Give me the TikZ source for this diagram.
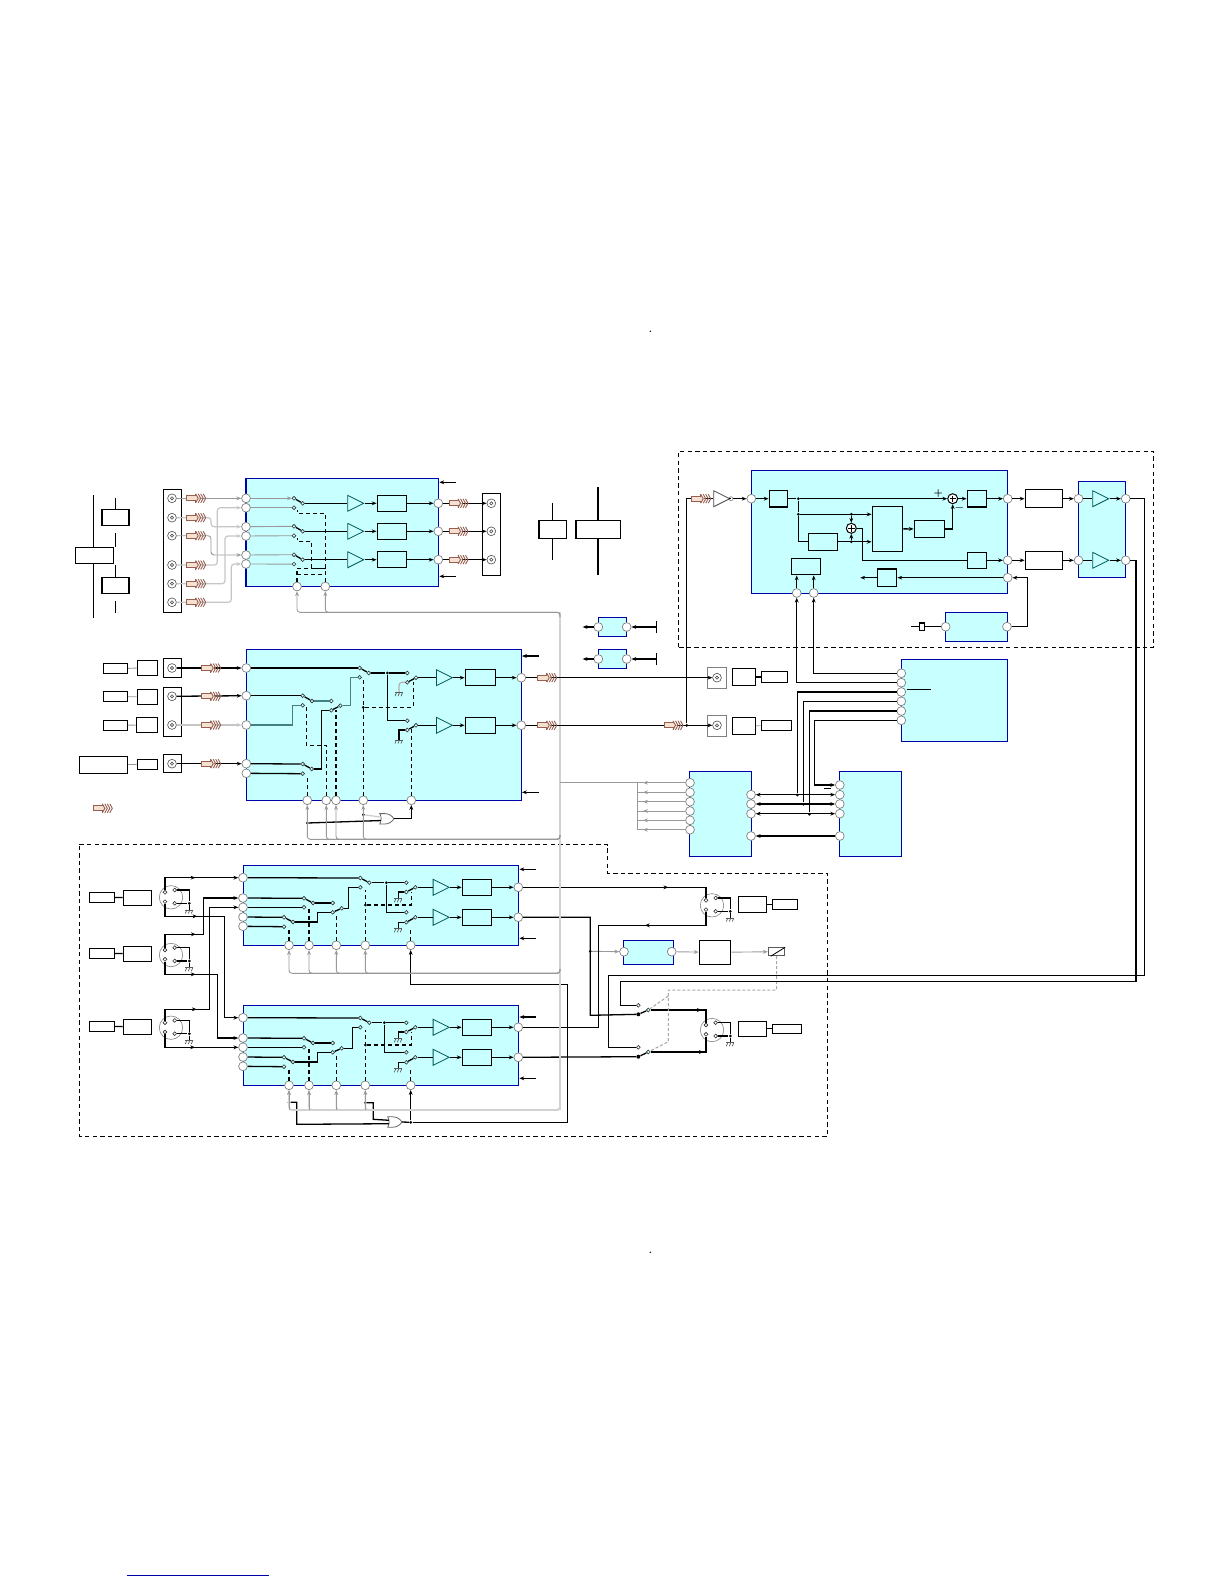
\documentclass[tikz,border=0pt]{standalone}
\usepackage{tikz}
\usetikzlibrary{positioning,arrows.meta,shapes.geometric,shapes.gates.logic.US,decorations.markings}

\definecolor{blkfill}{RGB}{200,255,255}
\definecolor{blkline}{RGB}{0,0,170}
\definecolor{hatchline}{RGB}{150,95,80}
\definecolor{hatchfill}{RGB}{245,225,210}

\tikzset{
    hatcharrow/.pic={
        \fill[hatchfill] (0,-2.5) -- (9,-2.5) -- (9,-4.5) -- (13,0) -- (9,4.5) -- (9,2.5) -- (0,2.5) -- cycle;
        \draw[hatchline, line width=.4pt] (9,-4.5) -- (9,-2.5) -- (0,-2.5) -- (0,2.5) -- (9,2.5) -- (9,4.5);
        \foreach \x in {9,11.5,14,16.5} {
            \draw[hatchline, line width=.45pt] (\x,-4.5) -- (\x+2.5,0) -- (\x,4.5);
        }
    },
    gnd/.pic={
        \draw[gray!70!black, line width=.35pt] (-4,0) -- (4,0);
        \foreach \x in {-2.5,0.5,3.5} {
            \draw[gray!70!black, line width=.35pt] (\x,0) -- (\x-1.5,3.5);
        }
    }
}

\begin{document}
\begin{tikzpicture}[
    x=0.5pt, y=-0.5pt,
    >={Stealth[length=2.4pt,width=1.9pt]},
    % blocks
    sz/.style 2 args={minimum width=#1*0.5pt, minimum height=#2*0.5pt},
    bluebox/.style={rectangle, draw=blkline, fill=blkfill, line width=.7pt, inner sep=0pt},
    innerbox/.style={rectangle, draw=black, fill=blkfill, line width=.7pt, inner sep=0pt},
    whitebox/.style={rectangle, draw=black, fill=white, line width=.7pt, inner sep=0pt},
    % terminals
    port/.style={circle, draw=gray, fill=white, line width=.35pt, minimum size=4.4pt, inner sep=0pt},
    contact/.style={circle, draw=black!80, fill=blkfill, line width=.3pt, minimum size=1.9pt, inner sep=0pt},
    dot/.style={circle, fill=black, minimum size=1.5pt, inner sep=0pt},
    jack/.style={circle, draw=black!70, fill=white, line width=.3pt, minimum size=4.4pt, inner sep=0pt,
        path picture={\draw[black!70, line width=.3pt] (path picture bounding box.center) circle (.8pt);}},
    xlr/.style={circle, draw=gray, line width=.3pt, minimum size=11.7pt, inner sep=0pt},
    sumnode/.style={circle, draw=black, fill=white, line width=.5pt, minimum size=5pt, inner sep=0pt,
        path picture={\draw[line width=.6pt] (path picture bounding box.center) ++(-1.6pt,0) -- ++(3.2pt,0)
            (path picture bounding box.center) ++(0,-1.6pt) -- ++(0,3.2pt);}},
    amp/.style={isosceles triangle, isosceles triangle stretches, draw=teal!70!black, fill=blkfill,
        line width=.4pt, minimum width=8pt, minimum height=8pt, inner sep=0pt, anchor=lower side},
    orgate/.style={or gate US, draw=black!60, fill=white, logic gate inputs=nn, line width=.4pt,
        scale=.36, transform shape},
    % wires
    wire/.style={line width=.65pt},
    arrow/.style={->, line width=.65pt},
    graywire/.style={->, draw=gray!80, line width=.45pt, rounded corners=1.5pt},
    lightwire/.style={->, draw=gray!45, line width=.6pt, rounded corners=1.5pt},
    buswire/.style={draw=gray!35, line width=1.1pt},
    ctrl/.style={line width=.55pt, dash pattern=on 2pt off 1.5pt},
    dashframe/.style={line width=.55pt, dash pattern=on 2.2pt off 1.6pt},
    dotgray/.style={draw=gray!70, line width=.5pt, dash pattern=on 1.5pt off 1pt},
    midtip/.style={postaction={decorate}, decoration={markings, mark=at position #1 with {\arrow{Stealth[length=2.4pt,width=1.9pt]}}}},
    signlabel/.style={font=\fontsize{4}{4}\selectfont\bfseries, inner sep=0pt}
]
\useasboundingbox (0,0) rectangle (1224,1584);

% dashed frames
\draw[dashframe] (678.3,647.3) -- (678.3,451.3) -- (1153.7,451.3) -- (1153.7,647.3) -- cycle;
\draw[dashframe] (79.3,844.7) -- (607.7,844.7) -- (607.7,873.3) -- (827.7,873.3) -- (827.7,1136.3) -- (79.3,1136.3) -- cycle;

% page marks
\node[dot, minimum size=.8pt] (mk1) at (650.3,331.3) {};
\node[dot, minimum size=.8pt] (mk2) at (650.3,1252.3) {};
\coordinate (fna) at (127,1575.3);
\coordinate (fnb) at (269,1575.3);
\draw[blkline, line width=.8pt] (fna) -- (fnb);

% left group
\coordinate (rla) at (93.3,495);
\coordinate (rlb) at (93.3,618.3);
\node[whitebox, sz={38}{15.6}] (rela) at (94.3,555.5) {};
\node[whitebox, sz={27}{16}] (relb) at (115.3,517.3) {};
\node[whitebox, sz={27}{16}] (relc) at (115.3,585.3) {};
\coordinate (rs1) at (115.3,498.3);
\coordinate (rs2) at (115.3,533.3);
\coordinate (rs3) at (115.3,546.7);
\coordinate (rs4) at (115.3,565);
\coordinate (rs5) at (115.3,601.3);
\coordinate (rs6) at (115.3,612.7);
\draw[wire] (rla) -- (rela.north -| rla);
\draw[wire] (rela.south -| rla) -- (rlb);
\draw[wire] (rs1) -- (relb);
\draw[wire] (rs2) -- (rs3);
\draw[wire] (rs4) -- (relc);
\draw[wire] (rs5) -- (rs6);

% middle group
\node[whitebox, sz={27.4}{18.4}] (midb1) at (552.5,529.5) {};
\node[whitebox, sz={44.4}{18.4}] (midb2) at (598,529.5) {};
\coordinate (mid1t) at (552.5,503);
\coordinate (mid1b) at (552.5,560);
\coordinate (mid2t) at (598,487.3);
\coordinate (mid2b) at (598,575);
\draw[wire] (mid1t) -- (midb1);
\draw[wire] (midb1) -- (mid1b);
\draw[wire] (mid2t) -- (midb2);
\draw[wire] (midb2) -- (mid2b);

% small blocks
\foreach \n/\y in {1/627,2/659} {
    \node[bluebox, sz={28.4}{19}] (smb\n) at (612.5,\y) {};
    \node[port] (smb\n l) at (598.3,\y) {};
    \node[port] (smb\n r) at (626.7,\y) {};
    \coordinate (sme\n l) at (582.7,\y);
    \coordinate (sme\n r) at (657.3,\y);
    \draw[arrow] (smb\n l) -- (sme\n l);
    \draw[<-|, line width=.65pt] (smb\n r) -- (sme\n r);
}

% BLOCK A
\node[bluebox, sz={192.7}{108.4}] (ablk) at (342.3,532.5) {};
\node[whitebox, sz={18}{123}] (conl) at (172.3,550.8) {};
\node[whitebox, sz={18.4}{82}] (conr) at (491.5,534.3) {};
\foreach \n/\y in {1/498.3,2/507.7,3/526.7,4/536,5/555,6/564} {
    \node[port] (a\n) at (246,\y) {};
}
\foreach \n/\y in {1/498.3,2/517.7,3/535.7,4/565,5/583.7,6/602.3} {
    \node[jack] (jl\n) at (172,\y) {};
}
\foreach \n/\x in {1/297,2/325.3} {
    \node[port] (ac\n) at (\x,586.5) {};
}
\foreach \n/\y in {1/503.3,2/531.3,3/559.7} {
    \node[contact] (sa\n u) at (294,\y-5) {};
    \node[contact] (sa\n d) at (294,\y+4.4) {};
    \node[contact] (sa\n o) at (302.7,\y) {};
    \node[amp] (ampa\n) at (347.3,\y) {};
    \node[innerbox, sz={29.4}{16}] (fila\n) at (392,\y) {};
    \node[port] (ao\n) at (438.3,\y) {};
    \node[jack] (jr\n) at (491.3,\y) {};
    \draw[wire] (sa\n u) -- (sa\n o);
    \draw[wire] (sa\n o) -- (ampa\n.lower side);
    \draw[arrow] (ampa\n.apex) -- (fila\n);
    \draw[arrow] (fila\n) -- (ao\n);
    \draw[arrow] (ao\n) -- (jr\n);
    \pic at (449,\y) {hatcharrow};
}
\draw[graywire] (a1) -- (sa1u);
\draw[graywire, -] (a2) -- (sa1d);
\draw[graywire, -] (a3) -- (sa2u);
\draw[graywire, -] (a4) -- (sa2d);
\draw[graywire, -] (a5) -- (sa3u);
\draw[graywire, -] (a6) -- (sa3d);
\draw[graywire] (jl1) -- (a1);
\draw[lightwire] (jl2) -| (211,526.7) -- (a3);
\draw[graywire] (jl3) -| (211,555) -- (a5);
\draw[lightwire] (jl4) -| (217.3,507.7) -- (a2);
\draw[lightwire] (jl5) -| (225,536) -- (a4);
\draw[lightwire] (jl6) -| (231.3,564) -- (a6);
\foreach \y in {498.3,517.7,535.7,565,583.7,602.3} {
    \pic at (186.7,\y) {hatcharrow};
}
\coordinate (ad1a) at (325.3,513.3);
\coordinate (ad1b) at (297.3,510);
\coordinate (ad2a) at (325.3,568.3);
\coordinate (ad2b) at (311.3,541.3);
\coordinate (ad2c) at (297.3,538);
\coordinate (ad3a) at (297,568);
\coordinate (ad3b) at (297,574.3);
\draw[ctrl] (ac2) |- (ad1b |- ad1a) -- (ad1b);
\draw[ctrl] (ad2a) -| (ad2b) -| (ad2c);
\draw[ctrl] (ad3a |- ad2a) -- (ad2a);
\draw[ctrl] (ac1) -- (ad3a);
\draw[ctrl] (ad3b) -- (ad3b -| ac2);
\foreach \n/\y in {1/482.3,2/576.3} {
    \coordinate (ata\n) at (456,\y);
    \draw[arrow] (ata\n) -- (ablk.east |- ata\n);
}

% BLOCK B
\node[bluebox, sz={275}{151}] (bblk) at (383.8,724.8) {};
\node[whitebox, sz={18}{19}] (conb1) at (172.3,667.8) {};
\node[whitebox, sz={18}{49.4}] (conb2) at (172.3,712) {};
\node[whitebox, sz={18}{18}] (conb4) at (172.3,763.3) {};
\foreach \n/\y in {1/668,2/695.7,3/725,4/763.7,5/773.3} {
    \node[port] (b\n) at (246.3,\y) {};
}
\foreach \n/\y in {1/668,2/696.3,3/725,4/763.7} {
    \node[jack] (jb\n) at (172,\y) {};
}
\node[whitebox, sz={24}{10}] (srb1) at (115.3,668.7) {};
\node[whitebox, sz={20.4}{15}] (sqb1) at (147.5,667.8) {};
\node[whitebox, sz={24}{10}] (srb2) at (115.3,696.7) {};
\node[whitebox, sz={20.4}{15}] (sqb2) at (147.5,696.8) {};
\node[whitebox, sz={24}{10}] (srb3) at (115.3,725.3) {};
\node[whitebox, sz={21.4}{15.4}] (sqb3) at (147,725) {};
\node[whitebox, sz={48}{17}] (srb4) at (103.3,764.8) {};
\node[whitebox, sz={20.4}{10}] (sqb4) at (147.5,764.3) {};
\foreach \n in {1,2,3,4} {
    \draw[graywire, -] (srb\n) -- (sqb\n);
}
\foreach \n/\x/\y in {s1u/359.7/668,s1d/359.7/677.3,s1o/368.7/673,
    m1u/407.3/673,m1d/407.3/682.3,m1o/416/677.7,
    m2u/407.3/720.7,m2d/407.3/730,m2o/416/725.3,
    s2u/302.7/695.7,s2d/302.7/705.3,s2o/312/701,
    s3u/331.3/701,s3d/331.3/710.3,s3o/340.3/705.7,
    s4u/302.7/764,s4d/302.7/773.7,s4o/311.7/769} {
    \node[contact] (b\n) at (\x,\y) {};
}
\foreach \n/\y in {1/677.7,2/725.3} {
    \node[amp] (ampb\n) at (436,\y) {};
    \node[innerbox, sz={30.4}{16}] (filb\n) at (480.5,\y) {};
    \node[port] (bo\n) at (521.3,\y) {};
    \draw[wire] (bm\n o) -- (ampb\n.lower side);
    \draw[wire] (bm\n d) -- (bm\n o);
    \draw[arrow] (ampb\n.apex) -- (filb\n);
    \draw[arrow] (filb\n) -- (bo\n);
}
\foreach \n/\x in {1/307.3,2/326.3,3/336,4/363.3,5/411.3} {
    \node[port] (bc\n) at (\x,800.3) {};
}
\node[dot] (bd1) at (387.3,673) {};
\node[dot] (bd2) at (363.3,707.3) {};
\coordinate (bg1) at (399,692.7);
\coordinate (bg2) at (399,740);
\draw[arrow] (jb1) -- (b1);
\draw[arrow] (jb2) -- (b2);
\draw[lightwire] (jb3) -- (b3);
\draw[arrow] (jb4) -- (b4);
\foreach \y in {668,696.3,725,763.7} {
    \pic at (201.7,\y) {hatcharrow};
}
\draw[wire] (b1) -- (bs1u);
\draw[wire] (bs1u) -- (bs1o);
\draw[wire] (bs1o) -- (bd1);
\draw[wire] (bd1) -- (bm1u);
\draw[wire] (bd1) |- (bm2u);
\draw[lightwire, -, draw=gray!60] (bm1d) -| (bg1);
\draw[wire] (bm2d) -| (bg2);
\pic at (bg1) {gnd};
\pic at (bg2) {gnd};
\draw[wire] (b2) -- (bs2u);
\draw[wire] (bs2u) -- (bs2o);
\draw[wire, draw=teal!50!gray] (bs2o) -- (bs3u);
\draw[wire, draw=teal!50!gray] (b3) -| (292.3,705.3) -- (bs2d);
\draw[wire] (bs3d) -- (bs3o);
\draw[wire, draw=teal!40!gray] (bs3o) -| (350.7,677.3) -- (bs1d);
\draw[wire] (b4) -- (bs4u);
\draw[wire] (bs4u) -- (bs4o);
\draw[wire] (bs4o) -| (321.3,710.3) -- (bs3d);
\draw[wire] (b5) -- (bs4d);
\coordinate (bt1) at (307.3,776);
\coordinate (bt2) at (326.3,745.3);
\coordinate (bt2b) at (306.3,706.7);
\coordinate (bt3) at (336,710);
\coordinate (bt4) at (363.3,680);
\coordinate (bt5) at (411.3,729);
\coordinate (bt6) at (413.3,681.7);
\draw[ctrl] (bc1) -- (bt1);
\draw[ctrl] (bc2) -- (bt2) -| (bt2b);
\draw[ctrl] (bc3) -- (bt3);
\draw[ctrl] (bc4) -- (bt4);
\draw[ctrl] (bc5) -- (bt5);
\draw[ctrl] (bd2) -| (bt6);
\foreach \n/\y in {1/656,2/792.3} {
    \coordinate (btp\n) at (539,\y);
    \draw[arrow] (btp\n) -- (bblk.east |- btp\n);
}
\node[orgate] (gb) at (385.8,818.8) {};
\node[dot] (bdt1) at (363.3,814.7) {};
\node[dot] (bdt2) at (307.3,823) {};
\draw[lightwire, -, draw=gray!40] (bdt1) -- (gb.input 1);
\draw[wire] (bdt2) -- (gb.input 2);
\draw[arrow] (gb.output) -| (bc5);
\pic at (93.3,808.3) {hatcharrow};

% BLOCKS F and G
\foreach \p/\dy/\tipy/\dx/\mx in {f/0/869.3/386.3/348.3,g/140/1017/384.3/352.7} {
    \node[bluebox, sz={275.4}{80}] (\p blk) at (381,905.3+\dy) {};
    \foreach \n/\y in {1/877.7,2/898,3/907.3,4/917,5/926.3} {
        \node[port] (\p\n) at (243,\y+\dy) {};
    }
    \foreach \n/\x in {1/289,2/309,3/336.3,4/365.3,5/410.7} {
        \node[port] (\p c\n) at (\x,945.3+\dy) {};
    }
    \foreach \n/\x/\y in {s1u/360.3/878,s1d/360.3/887.3,s1o/369.3/882.7,
        m1u/406.3/882.7,m1d/406.3/892,m1o/415.3/887.3,
        m2u/406.3/912.3,m2d/406.3/922.3,m2o/415.3/917.3,
        s2u/304/898.3,s2d/304/907.3,s2o/313/903,
        s3u/332.7/903,s3d/332.7/912.3,s3o/341.7/908.3,
        s4u/284/917.3,s4d/284/926.7,s4o/293/922} {
        \node[contact] (\p\n) at (\x,\y+\dy) {};
    }
    \foreach \n/\y in {1/887.3,2/917.3} {
        \node[amp] (\p amp\n) at (432.7,\y+\dy) {};
        \node[innerbox, sz={29.4}{16}] (\p fil\n) at (477,\y+\dy) {};
        \node[port] (\p o\n) at (518.3,\y+\dy) {};
        \coordinate (\p g\n) at (398.3,\y+\dy+11.5);
        \draw[wire] (\p m\n o) -- (\p amp\n.lower side);
        \draw[wire] (\p m\n d) -- (\p m\n o);
        \draw[wire] (\p m\n d) -| (\p g\n);
        \pic at (\p g\n) {gnd};
        \draw[arrow] (\p amp\n.apex) -- (\p fil\n);
        \draw[arrow] (\p fil\n) -- (\p o\n);
    }
    \node[dot] (\p d) at (\dx,882.7+\dy) {};
    \node[dot] (\p e) at (365.3,905+\dy) {};
    \draw[wire] (\p1) -- (\p s1u);
    \draw[wire] (\p s1u) -- (\p s1o);
    \draw[wire] (\p s1o) -- (\p d);
    \draw[wire] (\p d) -- (\p m1u);
    \draw[wire] (\p d) |- (\p m2u);
    \draw[wire] (\p2) -- (\p s2u);
    \draw[wire] (\p3) -- (\p s2d);
    \draw[wire] (\p s2u) -- (\p s2o);
    \draw[wire] (\p s2o) -- (\p s3u);
    \draw[wire] (\p s3d) -- (\p s3o);
    \draw[wire] (\p s3o) -| (\mx,887.3+\dy) -- (\p s1d);
    \draw[wire] (\p4) -- (\p s4u);
    \draw[wire] (\p5) -- (\p s4d);
    \draw[wire] (\p s4u) -- (\p s4o);
    \draw[wire] (\p s4o) -| (317.3,912.3+\dy) -- (\p s3d);
    \coordinate (\p t1) at (289,929+\dy);
    \coordinate (\p t2) at (309,909.3+\dy);
    \coordinate (\p t3) at (336.3,913.3+\dy);
    \coordinate (\p t4) at (365.3,890+\dy);
    \coordinate (\p t5) at (410.7,928.3+\dy);
    \coordinate (\p t6) at (411.3,891.7+\dy);
    \foreach \n in {1,2,3,4,5} {
        \draw[ctrl] (\p c\n) -- (\p t\n);
    }
    \draw[ctrl] (\p e) -| (\p t6);
    \coordinate (\p ta) at (536,\tipy);
    \coordinate (\p tb) at (536,938.3+\dy);
    \draw[arrow] (\p ta) -- (\p blk.east |- \p ta);
    \draw[arrow] (\p tb) -- (\p blk.east |- \p tb);
}

% XLR sockets
\foreach \n/\x/\y in {1/171/897.3,2/171/955,3/171/1027.7,4/712/905.3,5/712/1030} {
    \node[xlr] (x\n) at (\x,\y) {};
    \node[contact, fill=white] (x\n a) at (\x-6,\y-5) {};
    \node[contact, fill=white] (x\n b) at (\x-6,\y+4.3) {};
    \node[contact, fill=white] (x\n c) at (\x+3.7,\y-7.3) {};
    \node[contact, fill=white] (x\n d) at (\x+3.7,\y+6) {};
    \node[dot] (x\n g) at (\x+18.3,\y+6) {};
    \coordinate (x\n h) at (\x+18.3,\y+12.7);
    \draw[wire] (x\n c) -| (x\n g);
    \draw[wire] (x\n d) -- (x\n g);
    \draw[wire] (x\n g) -- (x\n h);
    \pic at (x\n h) {gnd};
}
\foreach \n/\y in {1/897.3,2/953.3,3/1026.3} {
    \node[whitebox, sz={25}{10}] (xs\n) at (101.8,\y) {};
    \node[whitebox, sz={28}{15}] (xq\n) at (137.3,\y+.5) {};
    \draw[wire] (xs\n) -- (xq\n);
}
\node[whitebox, sz={28.4}{16}] (xq4) at (752.5,904.3) {};
\node[whitebox, sz={25}{10}] (xs4) at (784.8,904.3) {};
\node[whitebox, sz={28.4}{15}] (xq5) at (752.5,1028.8) {};
\node[whitebox, sz={29.4}{9}] (xs5) at (787,1028.8) {};
\draw[wire] (xq4) -- (xs4);
\draw[wire] (xq5) -- (xs5);

% wires from the sockets
\draw[arrow, midtip=.5] (x1a) |- (f1);
\draw[arrow, midtip=.24] (x1b) |- (224.3,916.3) |- (g1);
\draw[arrow, midtip=.36] (x2a) |- (203.3,934.3) |- (f2);
\draw[arrow, midtip=.29] (x2b) |- (217.3,974.3) |- (g2);
\draw[arrow, midtip=.23] (x3a) |- (209.3,1009.3) |- (f3);
\draw[arrow, midtip=.5] (x3b) |- (g3);

% BLOCK H and output switch
\node[bluebox, sz={50}{24}] (hblk) at (648.3,952.3) {};
\node[port] (h1) at (624,951.7) {};
\node[port] (h2) at (671.7,951.7) {};
\node[whitebox, sz={31.4}{24}] (hq) at (715,952.3) {};
\node[rectangle, draw=gray!70!black, line width=.5pt, sz={16.4}{8}, inner sep=0pt] (rly) at (776.5,951.7) {};
\draw[wire, line width=.4pt] (rly.south west) ++(3,0) -- (rly.north east);
\node[dot] (rd) at (590.3,951.3) {};
\draw[graywire] (rd) -- (h1);
\draw[graywire] (h2) -- (hq);
\draw[graywire] (hq) -- (rly);
\node[contact, fill=white] (rs1a) at (638.3,1005.3) {};
\node[dot, minimum size=2pt] (rs1c) at (638.3,1014.3) {};
\node[contact] (rs1o) at (648.3,1010) {};
\node[contact, fill=white] (rs2a) at (638.3,1047.3) {};
\node[dot, minimum size=2pt] (rs2c) at (638.3,1056.7) {};
\node[contact] (rs2o) at (648.3,1052) {};
\draw[wire] (rs1c) -- (rs1o);
\draw[wire] (rs2c) -- (rs2o);
\draw[wire, midtip=.75] (rs1o) -| (x5a);
\draw[wire, midtip=.75] (rs2o) -| (x5b);
\draw[wire, midtip=.75] (fo1) -| (x4a);
\draw[wire, midtip=.25] (x4b) |- (598.3,925.3) |- (go1);
\draw[wire] (fo2) -| (590.3,1015.3) -- (rs1c);
\draw[wire] (go2) -- (rs2c);
\coordinate (rjn1) at (668.3,990);
\coordinate (rjn2) at (668.3,996);
\coordinate (rjn3) at (668.3,1041.7);
\draw[dotgray] (rly.south) |- (rjn1) -- (rjn3) -- (rs2o);
\draw[dotgray] (rjn2) -- (rs1o);

% OR gate of block G
\node[orgate] (gg) at (393.8,1122) {};
\node[dot] (gi1) at (365.3,1102.7) {};
\node[dot] (gi2) at (289,1102.3) {};
\node[dot] (gdot) at (410.7,1122.3) {};
\draw[wire] (gi1) -| (373.3,1119.3) -- (gg.input 1);
\draw[wire] (gi2) -| (296.7,1124.3) -- (gg.input 2);
\draw[wire] (gg.output) -- (gdot);
\draw[arrow] (gdot) -- (gc5);
\draw[arrow] (gdot) -- (567.3,1122.3) -- (567.3,984.7) -| (fc5);

% grey control lines
\coordinate (busat) at (560,612.3);
\coordinate (busa) at (560,617);
\coordinate (busn) at (560,782.7);
\coordinate (busb) at (560,839.3);
\coordinate (busm) at (560,835);
\coordinate (busf) at (560,973.3);
\coordinate (busk) at (560,969);
\coordinate (busz) at (560,1110);
\coordinate (busy) at (560,1106);
\draw[buswire] (busat) -- (busz);
\foreach \q in {ac1,ac2} {
    \draw[graywire] (busa) |- (busat -| \q) -- (\q);
}
\foreach \q in {bc1,bc2,bc3,bc4} {
    \draw[graywire] (busm) |- (busb -| \q) -- (\q);
}
\foreach \q in {fc1,fc2,fc3,fc4} {
    \draw[graywire] (busk) |- (busf -| \q) -- (\q);
}
\foreach \q in {gc1,gc2,gc3,gc4} {
    \draw[lightwire, draw=gray!35, line width=.8pt] (busy) |- (busz -| \q) -- (\q);
}
\foreach \q in {gc1,gc2,gc3,gc4} {
    \draw[graywire, line width=.4pt] (\q |- busz) -- (\q);
}

% BLOCKS C, D, E
\node[bluebox, sz={62.4}{85}] (cblk) at (720.5,813.8) {};
\node[bluebox, sz={62.4}{85}] (dblk) at (870.5,813.8) {};
\node[bluebox, sz={106}{82}] (eblk) at (954.3,700.3) {};
\foreach \n/\y in {1/782.7,2/792.3,3/801.7,4/811,5/820.3,6/829.7} {
    \node[port] (cl\n) at (690,\y) {};
}
\foreach \n/\y in {1/794.7,2/804,3/813.7,4/836} {
    \node[port] (cr\n) at (751,\y) {};
}
\foreach \n/\y in {1/785,2/794.7,3/804,4/813.7,5/836} {
    \node[port] (d\n) at (839.8,\y) {};
}
\foreach \n/\y in {1/673.3,2/682.7,3/692,4/701.3,5/711,6/720.3} {
    \node[port] (ep\n) at (901.3,\y) {};
}
\coordinate (cbus) at (637.3,782.7);
\draw[graywire, -] (busn) -- (cl1);
\draw[graywire, -] (cbus) -- (cbus |- cl6);
\foreach \n in {1,2,3,4,5,6} {
    \draw[graywire, -, sharp corners, midtip=.88] (cl\n) -- (cl\n -| cbus);
}
\foreach \n/\m in {1/2,2/3,3/4} {
    \draw[<->, line width=.65pt] (cr\n) -- (d\m);
}
\draw[arrow] (d5) -- (cr4);
\node[dot] (cd1) at (797.3,795) {};
\node[dot] (cd2) at (803.3,804.3) {};
\node[dot] (cd3) at (809.3,814.3) {};
\coordinate (ein) at (930.7,689.3);
\coordinate (eis) at (906.7,689.3);
\draw[wire] (eis) -- (ein);
\coordinate (dma) at (824,788);
\coordinate (dmb) at (831.3,788);
\draw[wire, line width=.45pt] (dma) -- (dmb);
\draw[wire] (ep3) -| (cd1);
\draw[wire] (ep4) -| (cd2);
\draw[wire] (ep5) -| (cd3);
\draw[arrow] (ep6) -| (814.3,785) -- (d1);

% outputs of block B
\node[rectangle, draw=gray, line width=.4pt, sz={19}{21}, inner sep=0pt] (jca) at (717.2,678.2) {};
\node[rectangle, draw=gray, line width=.4pt, sz={19}{21}, inner sep=0pt] (jcb) at (717.2,725.8) {};
\node[jack] (joa) at (717,677.7) {};
\node[jack] (job) at (717,725.3) {};
\node[whitebox, sz={23.4}{17.4}] (oq1) at (744,677) {};
\node[whitebox, sz={26.4}{11.4}] (os1) at (774.5,677) {};
\node[whitebox, sz={23.4}{17.4}] (oq2) at (744,726) {};
\node[whitebox, sz={30.4}{10.4}] (os2) at (776.5,725.5) {};
\draw[wire] (oq1) -- (os1);
\draw[graywire, -] (oq2) -- (os2);
\draw[arrow] (bo1) -- (joa);
\draw[arrow] (bo2) -- (job);
\foreach \y in {677.7,725.3} {
    \pic at (537.7,\y) {hatcharrow};
}
\node[dot] (jn) at (686.7,725.3) {};
\pic at (664,725.3) {hatcharrow};

% BLOCK I
\node[bluebox, sz={256.4}{123}] (iblk) at (879.5,531.8) {};
\node[port] (ii) at (751.3,498.7) {};
\node[port] (io1) at (1007.7,498.7) {};
\node[port] (io2) at (1007.7,560.3) {};
\node[port] (io3) at (1007.7,577.7) {};
\node[port] (ic1) at (796.7,593) {};
\node[port] (ic2) at (813.7,593) {};
\node[amp, fill=white, draw=black!70] (ampi) at (713.3,498.7) {};
\node[circle, draw=gray, fill=white, line width=.3pt, minimum size=2pt, inner sep=0pt] (ampib) at (731,498.7) {};
\node[innerbox, sz={18.4}{16.4}] (ib1) at (778.5,498.7) {};
\node[innerbox, sz={29.4}{17}] (ibb) at (823,541.8) {};
\node[innerbox, sz={30.4}{45}] (ibig) at (887.5,528.8) {};
\node[innerbox, sz={30.4}{17.4}] (ib5) at (929.5,529) {};
\node[innerbox, sz={19.4}{16}] (ib4) at (977,560.3) {};
\node[innerbox, sz={19.4}{16.4}] (ib6) at (977,498.7) {};
\node[innerbox, sz={29.4}{16.4}] (ibx) at (806,566.5) {};
\node[innerbox, sz={19.4}{17.4}] (ib7) at (887,577.7) {};
\node[sumnode] (isum1) at (952.7,498.7) {};
\node[sumnode] (isum2) at (851.3,528.3) {};
\node[dot] (id1) at (798.3,498.7) {};
\node[dot] (id2) at (798.3,514.3) {};
\node[dot] (isj1) at (851.3,514.3) {};
\node[dot] (isj2) at (851.3,541.8) {};
\node[signlabel] (ipl) at (938.3,493.3) {+};
\node[signlabel, font=\fontsize{5}{5}\selectfont\bfseries] (imi) at (959.3,509.3) {--};
\draw[wire] (jn) |- (ampi.lower side);
\draw[wire] (ampi.apex) -- (ampib);
\draw[arrow] (ampib) -- (ii);
\draw[arrow] (ii) -- (ib1);
\draw[wire] (ib1) -- (id1);
\draw[arrow] (id1) -- (isum1);
\draw[wire] (id1) -- (id2);
\draw[wire] (id2) |- (ibb);
\draw[arrow] (id2) -- (id2 -| ibig.west);
\draw[arrow] (ibb) -- (ibb -| ibig.west);
\draw[arrow] (isj1) -- (isum2);
\draw[arrow] (isj2) -- (isum2);
\draw[wire] (isum2) -| (862.7,560.3) -- (ib4);
\draw[arrow] (ibig) -- (ib5);
\draw[arrow] (ib5) -| (isum1);
\draw[arrow] (isum1) -- (ib6);
\draw[arrow] (ib6) -- (io1);
\draw[arrow] (ib4) -- (io2);
\draw[arrow] (ic1) -- (ic1 |- ibx.south);
\draw[arrow] (ic2) -- (ic2 |- ibx.south);
\coordinate (iend) at (860.3,577.7);
\draw[arrow] (io3) -- (ib7);
\draw[arrow] (ib7) -- (iend);
\draw[arrow] (ep1) -| (ic2);
\draw[arrow] (ep2) -| (ic1);
\pic at (691.7,498.7) {hatcharrow};

% BLOCK J
\node[bluebox, sz={62.4}{29}] (jblk) at (976.5,626.8) {};
\node[port] (jo1) at (945.7,626.7) {};
\node[port] (jo2) at (1007,626.7) {};
\node[rectangle, draw=black, fill=white, line width=.7pt, sz={5}{7.4}, inner sep=0pt] (xtal) at (922.2,626.7) {};
\coordinate (xtale) at (911,626.7);
\draw[wire] (xtale) -- (xtal);
\draw[wire] (xtal) -- (jo1);
\draw[arrow] (jo2) -| (1027.3,577.7) -- (io3);

% BLOCK K
\node[whitebox, sz={37.4}{18}] (lb1) at (1044,498.7) {};
\node[whitebox, sz={37.4}{18}] (lb2) at (1044,560.3) {};
\node[bluebox, sz={47.4}{96}] (kblk) at (1102,529.3) {};
\foreach \n/\y in {1/498.7,2/560.3} {
    \node[port] (ki\n) at (1078.5,\y) {};
    \node[port] (ko\n) at (1125.7,\y) {};
    \node[amp] (ampk\n) at (1092.3,\y) {};
    \draw[arrow] (io\n) -- (lb\n);
    \draw[arrow] (lb\n) -- (ki\n);
    \draw[wire] (ki\n) -- (ampk\n.lower side);
    \draw[arrow] (ampk\n.apex) -- (ko\n);
}
\draw[wire] (ko1) -| (1144.7,975.7) -- (608.3,975.7) |- (rs2a);
\draw[wire] (ko2) -| (1136,981.7) -- (620.3,981.7) |- (rs1a);

\end{tikzpicture}
\end{document}
